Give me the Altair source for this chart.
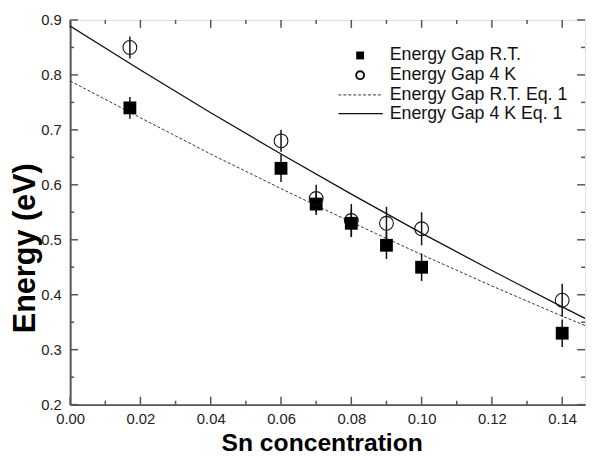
import altair as alt
import pandas as pd

# ---- data ----
conc = [0.017, 0.06, 0.07, 0.08, 0.09, 0.10, 0.14]
gap_rt = [0.74, 0.63, 0.565, 0.53, 0.49, 0.45, 0.33]
err_rt = [0.02, 0.025, 0.02, 0.025, 0.025, 0.025, 0.025]
gap_4k = [0.85, 0.68, 0.575, 0.535, 0.53, 0.52, 0.39]
err_4k = [0.02, 0.02, 0.025, 0.03, 0.03, 0.03, 0.03]

fit_x = [0.0, 0.02, 0.04, 0.06, 0.08, 0.10, 0.12, 0.14, 0.1465]
fit_rt = [0.789, 0.722, 0.656, 0.593, 0.532, 0.473, 0.416, 0.361, 0.344]
fit_4k = [0.889, 0.809, 0.731, 0.656, 0.583, 0.512, 0.444, 0.378, 0.357]

x_major = [0.00, 0.02, 0.04, 0.06, 0.08, 0.10, 0.12, 0.14]
x_minor = [0.01, 0.03, 0.05, 0.07, 0.09, 0.11, 0.13]
y_major = [0.2, 0.3, 0.4, 0.5, 0.6, 0.7, 0.8, 0.9]
y_minor = [0.25, 0.35, 0.45, 0.55, 0.65, 0.75, 0.85]

legend_labels = ["Energy Gap R.T.", "Energy Gap 4 K",
                 "Energy Gap R.T. Eq. 1", "Energy Gap 4 K Eq. 1"]

x_title = "Sn concentration"
y_title = "Energy (eV)"

# ---- tables ----
pts = pd.DataFrame({
    "x": conc,
    "rt": gap_rt,
    "rt_lo": [v - e for v, e in zip(gap_rt, err_rt)],
    "rt_hi": [v + e for v, e in zip(gap_rt, err_rt)],
    "k4": gap_4k,
    "k4_lo": [v - e for v, e in zip(gap_4k, err_4k)],
    "k4_hi": [v + e for v, e in zip(gap_4k, err_4k)],
})
fits = pd.DataFrame({"x": fit_x, "rt": fit_rt, "k4": fit_4k})
xmaj = pd.DataFrame({"x": x_major})
xmin = pd.DataFrame({"x": x_minor})
ymaj = pd.DataFrame({"y": y_major})
ymin = pd.DataFrame({"y": y_minor})
dummy = pd.DataFrame({"a": [0]})

W, H = 522, 390
FONT = "Liberation Sans"
AX = "#555555"

xs = alt.Scale(domain=[0, 0.1465], nice=False, zero=False)
ys = alt.Scale(domain=[0.2, 0.9], nice=False, zero=False)

xaxis = alt.Axis(values=x_major, format=".2f", title=x_title, grid=False,
                 ticks=False, labelFontSize=15, labelPadding=7,
                 labelFlush=False, labelOverlap=False,
                 labelColor="#222222", labelFont=FONT,
                 domainColor=AX, domainWidth=2,
                 titleFont=FONT, titleFontSize=25, titleFontWeight="bold",
                 titleColor="#000000", titleX=W / 2 - 6, titleY=38,
                 titleBaseline="middle", titleAlign="center")
yaxis = alt.Axis(values=y_major, format=".1f", title=y_title, grid=False,
                 ticks=False, labelFontSize=15, labelPadding=9,
                 labelFlush=False, labelOverlap=False,
                 labelColor="#222222", labelFont=FONT,
                 domainColor=AX, domainWidth=2,
                 titleFont=FONT, titleFontSize=31, titleFontWeight="bold",
                 titleColor="#000000", titleX=-45, titleY=231,
                 titleBaseline="middle", titleAlign="center", titleAngle=-90)


def X(field):
    return alt.X(field, type="quantitative", scale=xs, axis=xaxis)


def Y(field):
    return alt.Y(field, type="quantitative", scale=ys, axis=yaxis)


layers = []

# inward ticks
for df, ln in ((xmaj, 8), (xmin, 4)):
    layers.append(alt.Chart(df).mark_rule(color=AX, strokeWidth=1.5).encode(
        x=X("x"), y=alt.value(H), y2=alt.value(H - ln)))
    layers.append(alt.Chart(df).mark_rule(color=AX, strokeWidth=1.5).encode(
        x=X("x"), y=alt.value(0), y2=alt.value(ln)))
for df, ln in ((ymaj, 8), (ymin, 4)):
    layers.append(alt.Chart(df).mark_rule(color=AX, strokeWidth=1.5).encode(
        y=Y("y"), x=alt.value(0), x2=alt.value(ln)))
    layers.append(alt.Chart(df).mark_rule(color=AX, strokeWidth=1.5).encode(
        y=Y("y"), x=alt.value(W), x2=alt.value(W - ln)))

# fitted curves
layers.append(alt.Chart(fits).mark_line(color="#333333", strokeWidth=1,
                                        strokeDash=[3, 2], clip=True).encode(
    x=X("x"), y=Y("rt")))
layers.append(alt.Chart(fits).mark_line(color="#111111", strokeWidth=1.3,
                                        clip=True).encode(
    x=X("x"), y=Y("k4")))

# error bars
layers.append(alt.Chart(pts).mark_rule(color="#111111", strokeWidth=1.5).encode(
    x=X("x"), y=Y("rt_lo"), y2="rt_hi"))
layers.append(alt.Chart(pts).mark_rule(color="#111111", strokeWidth=1.5).encode(
    x=X("x"), y=Y("k4_lo"), y2="k4_hi"))

# points
layers.append(alt.Chart(pts).mark_point(shape="square", filled=True, size=169,
                                        color="#000000", opacity=1).encode(
    x=X("x"), y=Y("rt")))
layers.append(alt.Chart(pts).mark_point(shape="circle", filled=False, size=196,
                                        color="#111111", strokeWidth=1.1,
                                        opacity=1).encode(
    x=X("x"), y=Y("k4")))

# legend (drawn by hand)
LX_SYM, LX_TXT = 294, 324
LY = [36, 56, 76, 95]
layers.append(alt.Chart(dummy).mark_point(shape="square", filled=True, size=64,
                                          color="#000000", opacity=1).encode(
    x=alt.value(LX_SYM), y=alt.value(LY[0])))
layers.append(alt.Chart(dummy).mark_point(shape="circle", filled=False, size=64,
                                          color="#111111", opacity=1).encode(
    x=alt.value(LX_SYM), y=alt.value(LY[1])))
layers.append(alt.Chart(dummy).mark_rule(color="#333333", strokeWidth=1,
                                         strokeDash=[3, 2]).encode(
    x=alt.value(272), x2=alt.value(317), y=alt.value(LY[2])))
layers.append(alt.Chart(dummy).mark_rule(color="#111111", strokeWidth=1.3).encode(
    x=alt.value(272), x2=alt.value(317), y=alt.value(LY[3])))
for lab, yy in zip(legend_labels, LY):
    layers.append(alt.Chart(dummy).mark_text(
        text=lab, align="left", baseline="middle", font=FONT, fontSize=18,
        color="#111111").encode(x=alt.value(LX_TXT), y=alt.value(yy)))

chart = alt.layer(*layers).properties(
    width=W, height=H,
    autosize=alt.AutoSizeParams(type="none"),
    padding={"left": 63, "top": 9, "right": 3, "bottom": 52},
).configure_view(stroke=AX, strokeWidth=2).configure(background="white")

chart.save("out.html", embed_options={"renderer": "svg", "actions": False})
